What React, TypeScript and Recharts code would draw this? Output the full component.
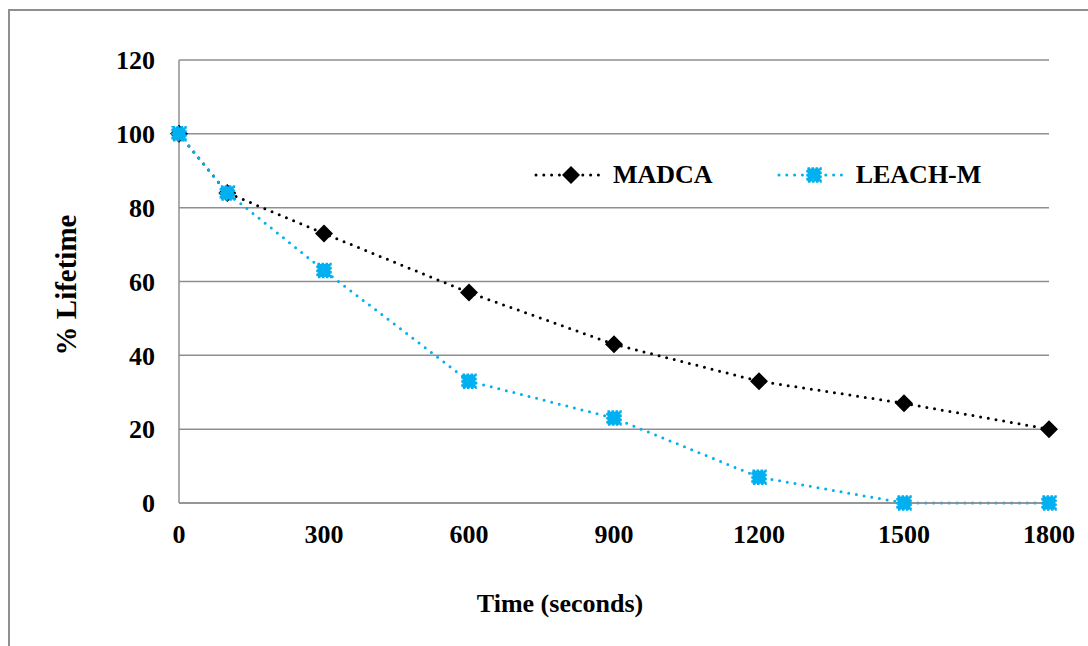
import React from "react";
import { CartesianGrid, Line, LineChart, XAxis, YAxis } from "recharts";

const times = [0, 100, 300, 600, 900, 1200, 1500, 1800];
const madca = [100, 84, 73, 57, 43, 33, 27, 20];
const leachM = [100, 84, 63, 33, 23, 7, 0, 0];
const xTicks = [0, 300, 600, 900, 1200, 1500, 1800];
const yTicks = [0, 20, 40, 60, 80, 100, 120];

const data = times.map((t, i) => ({ t, madca: madca[i], leachM: leachM[i] }));

const FONT = '"Liberation Serif", "Times New Roman", serif';
const GRID = "#8f8f8f";
const BLUE = "#00b0f0";
const DOTS = "0 7.8";

type DotProps = { cx?: number; cy?: number };

function Diamond({ cx, cy }: DotProps) {
  if (cx == null || cy == null) return null;
  const r = 9;
  return (
    <polygon
      points={`${cx},${cy - r} ${cx + r},${cy} ${cx},${cy + r} ${cx - r},${cy}`}
      fill="#000"
    />
  );
}

function BlueSquare({ cx, cy }: DotProps) {
  if (cx == null || cy == null) return null;
  const s = 13;
  return (
    <rect
      x={cx - s / 2}
      y={cy - s / 2}
      width={s}
      height={s}
      fill={BLUE}
      stroke={BLUE}
      strokeWidth={2.5}
      strokeDasharray="2.5 1.5"
    />
  );
}

function LegendItem({ color, name, marker }: { color: string; name: string; marker: React.ReactNode }) {
  return (
    <div style={{ display: "flex", alignItems: "center" }}>
      <svg width={74} height={24}>
        <line
          x1={2}
          y1={12}
          x2={72}
          y2={12}
          stroke={color}
          strokeWidth={3}
          strokeDasharray={DOTS}
          strokeLinecap="round"
        />
        {marker}
      </svg>
      <span style={{ marginLeft: 5, fontSize: 26, fontWeight: "bold", fontFamily: FONT, lineHeight: "24px" }}>
        {name}
      </span>
    </div>
  );
}

function ChartLegend() {
  return (
    <div style={{ position: "absolute", left: 534, top: 163, display: "flex", gap: 64 }}>
      <LegendItem color="#000" name="MADCA" marker={<Diamond cx={37} cy={12} />} />
      <LegendItem color={BLUE} name="LEACH-M" marker={<BlueSquare cx={37} cy={12} />} />
    </div>
  );
}

export default function App() {
  const tick = { fill: "#000", fontSize: 26, fontWeight: "bold", fontFamily: FONT };
  return (
    <div
      style={{
        position: "absolute",
        left: 0,
        top: 0,
        width: 1088,
        height: 646,
        overflow: "hidden",
        background: "#fff",
      }}
    >
      <div
        style={{
          position: "absolute",
          left: 8,
          top: 9,
          width: 1200,
          height: 800,
          border: `2px solid ${GRID}`,
        }}
      />
      <LineChart
        width={1088}
        height={646}
        data={data}
        margin={{ top: 60, right: 39, left: 0, bottom: 0 }}
        style={{ position: "absolute", left: 0, top: 0 }}
      >
        <CartesianGrid vertical={false} stroke={GRID} strokeWidth={1.5} />
        <XAxis
          dataKey="t"
          type="number"
          domain={[0, 1800]}
          ticks={xTicks}
          height={143}
          axisLine={{ stroke: GRID, strokeWidth: 1.5 }}
          tickLine={false}
          tickSize={0}
          tickMargin={22}
          tick={tick}
        />
        <YAxis
          domain={[0, 120]}
          ticks={yTicks}
          width={179}
          axisLine={{ stroke: GRID, strokeWidth: 1.5 }}
          tickLine={false}
          tickSize={0}
          tickMargin={24}
          tick={tick}
        />
        <Line
          dataKey="madca"
          name="MADCA"
          stroke="#000"
          strokeWidth={3}
          strokeDasharray={DOTS}
          strokeLinecap="round"
          dot={<Diamond />}
          activeDot={false}
          isAnimationActive={false}
        />
        <Line
          dataKey="leachM"
          name="LEACH-M"
          stroke={BLUE}
          strokeWidth={3}
          strokeDasharray={DOTS}
          strokeLinecap="round"
          dot={<BlueSquare />}
          activeDot={false}
          isAnimationActive={false}
        />
      </LineChart>
      <ChartLegend />
      <div
        style={{
          position: "absolute",
          left: 66,
          top: 285,
          transform: "translate(-50%, -50%) rotate(-90deg)",
          whiteSpace: "nowrap",
          fontSize: 29,
          fontWeight: "bold",
          fontFamily: FONT,
        }}
      >
        % Lifetime
      </div>
      <div
        style={{
          position: "absolute",
          left: 560,
          top: 604,
          transform: "translate(-50%, -50%)",
          whiteSpace: "nowrap",
          fontSize: 26,
          fontWeight: "bold",
          fontFamily: FONT,
        }}
      >
        Time (seconds)
      </div>
    </div>
  );
}
